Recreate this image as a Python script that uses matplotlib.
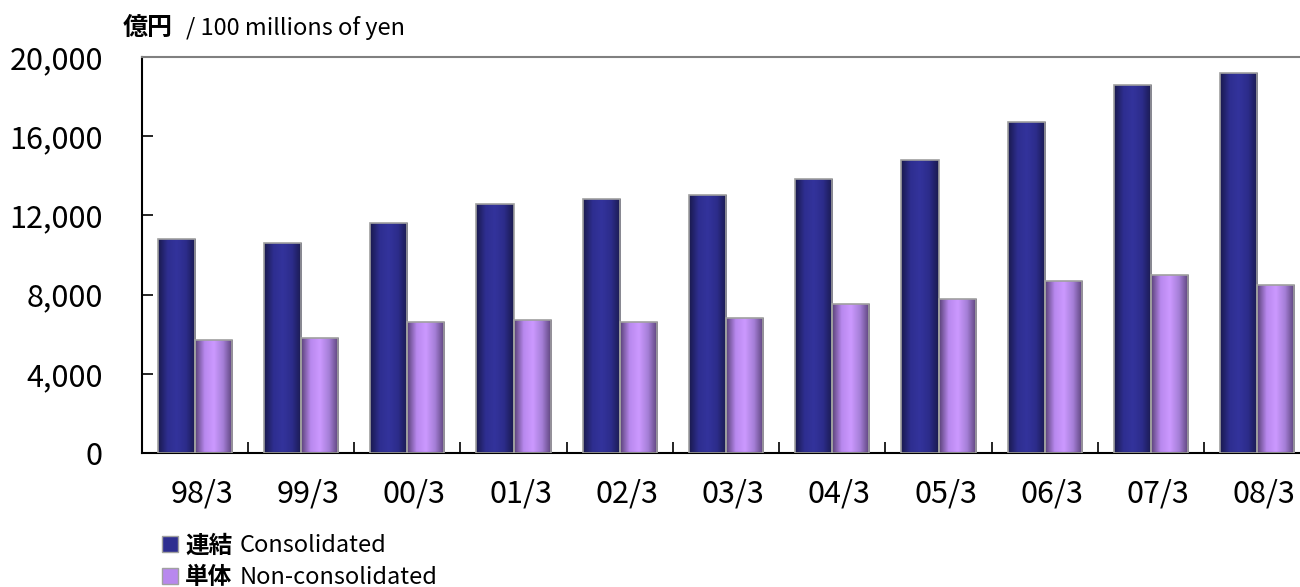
import numpy as np
import matplotlib.pyplot as plt
import matplotlib.transforms as mtransforms
from matplotlib.colors import LinearSegmentedColormap
from matplotlib.patches import Patch

plt.rcParams['font.family'] = ['Noto Sans CJK JP', 'DejaVu Sans']

years = ['98/3', '99/3', '00/3', '01/3', '02/3', '03/3', '04/3', '05/3', '06/3', '07/3', '08/3']
consolidated = [10800, 10600, 11600, 12600, 12850, 13050, 13850, 14800, 16700, 18600, 19200]
non_consolidated = [5700, 5800, 6600, 6700, 6600, 6800, 7550, 7800, 8700, 9000, 8500]
yticks = [0, 4000, 8000, 12000, 16000, 20000]

cons_cmap = LinearSegmentedColormap.from_list('c', ['#1a1a4e', '#2e2e90', '#33339c', '#2c2c8a', '#1a1a4e'])
non_cmap = LinearSegmentedColormap.from_list('n', ['#5a4278', '#b888ee', '#cc99ff', '#a47ed6', '#5a4278'])

fig = plt.figure(figsize=(13, 5.87), dpi=100)
ax = fig.add_axes([0.109, 0.228, 0.899, 0.675])

x = np.arange(len(years))
w = 0.35
grad = np.linspace(0, 1, 64).reshape(1, -1)

def gradient_bars(xs, vals, cmap):
    bars = ax.bar(xs, vals, w, color='none', edgecolor='#a0a0a0', linewidth=1.2, zorder=3)
    for b in bars:
        im = ax.imshow(grad, cmap=cmap, aspect='auto', zorder=2,
                       extent=[b.get_x(), b.get_x() + b.get_width(), 0, b.get_height()])
        im.set_clip_path(b)

gradient_bars(x - w / 2, consolidated, cons_cmap)
gradient_bars(x + w / 2, non_consolidated, non_cmap)

ax.set_xlim(-0.5, len(years) - 0.5)
ax.set_ylim(0, 20000)
ax.set_aspect('auto')

ax.set_yticks(yticks)
ax.set_yticklabels([f'{v:,}' for v in yticks], fontsize=22)
ax.tick_params(axis='y', direction='in', length=8, width=1.2, pad=28)

ax.set_xticks(x + 0.5)
ax.set_xticklabels([])
ax.set_xticks(x, minor=True)
ax.set_xticklabels(years, minor=True, fontsize=22)
ax.tick_params(axis='x', which='major', direction='in', length=8, width=1.2)
ax.tick_params(axis='x', which='minor', length=0, pad=18)
shift = mtransforms.ScaledTranslation(7 / 100, 0, fig.dpi_scale_trans)
for lbl in ax.get_xticklabels(minor=True):
    lbl.set_transform(lbl.get_transform() + shift)

ax.spines['top'].set_color('#808080')
ax.spines['top'].set_linewidth(1.5)
ax.spines['left'].set_linewidth(1.5)
ax.spines['bottom'].set_linewidth(1.5)
ax.spines['right'].set_visible(False)

t = fig.text(0.094, 0.932, '億円', fontsize=18, fontweight='bold', ha='left', va='bottom')
ax.annotate('/ 100 millions of yen', xy=(1, 0), xycoords=t, xytext=(10, 0),
            textcoords='offset points', fontsize=17, ha='left', va='bottom')

handles = [Patch(facecolor='#2e2e90', edgecolor='#a0a0a0'),
           Patch(facecolor='#b888ee', edgecolor='#a0a0a0')]
leg = fig.legend(handles=handles, labels=['連結', '単体'], loc='lower left',
                 bbox_to_anchor=(0.108, -0.04), frameon=False,
                 prop={'size': 17, 'weight': 'bold'}, handlelength=0.7, handleheight=0.7,
                 handletextpad=0.3, labelspacing=0.33)
for txt, extra in zip(leg.get_texts(), ['Consolidated', 'Non-consolidated']):
    ax.annotate(extra, xy=(1, 0), xycoords=txt, xytext=(5, 0),
                textcoords='offset points', fontsize=17, ha='left', va='bottom',
                annotation_clip=False)

fig.canvas.draw()
fig.savefig('out.png', dpi=100)
